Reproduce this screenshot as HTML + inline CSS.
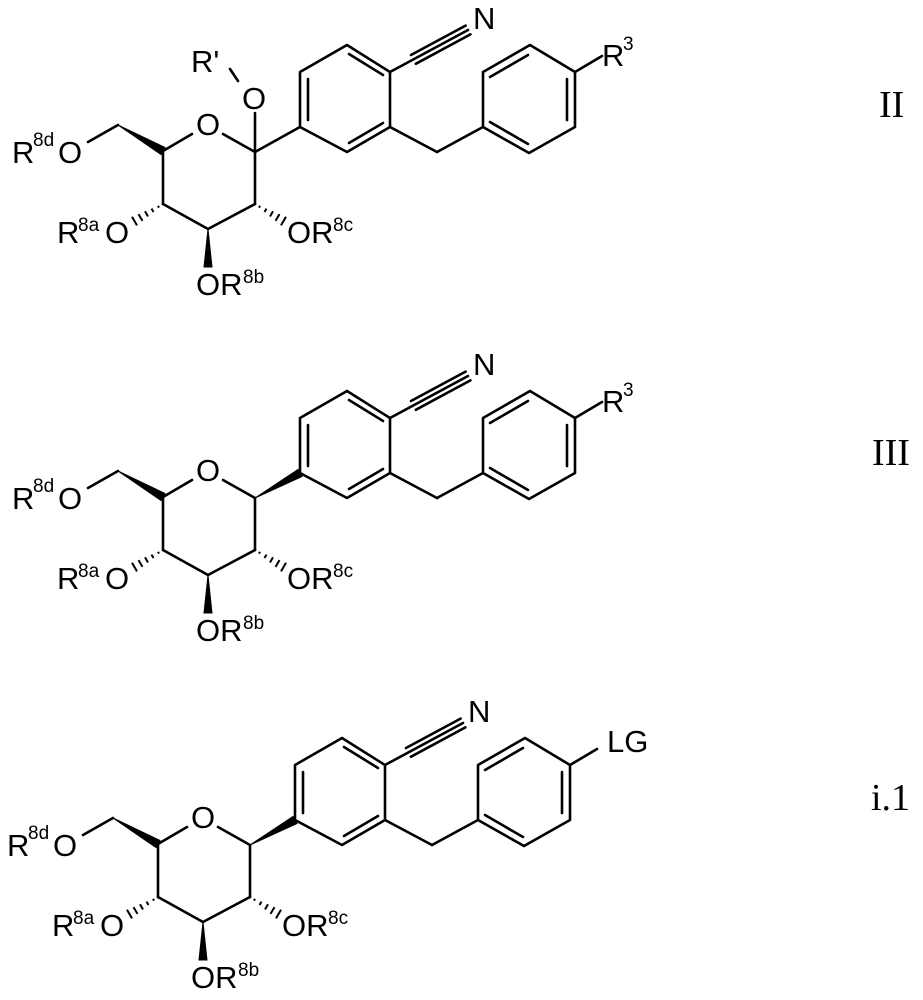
<!DOCTYPE html>
<html><head><meta charset="utf-8"><style>
html,body{margin:0;padding:0;background:#fff;}
svg{display:block;}
text{font-family:"Liberation Sans",sans-serif;fill:#000;}
.s{font-size:19px;}
.m{font-size:31px;}
.r{font-family:"Liberation Serif",serif;font-size:38px;}
</style></head><body>
<svg width="923" height="1000" viewBox="0 0 923 1000" xmlns="http://www.w3.org/2000/svg">
<defs>
<g id="core" stroke="#000" stroke-width="2.6" fill="none" stroke-linecap="round">
  <line x1="163" y1="151" x2="192" y2="134"/>
  <line x1="223" y1="134" x2="255" y2="152"/>
  <line x1="255" y1="152" x2="255" y2="204"/>
  <line x1="255" y1="204" x2="208" y2="229"/>
  <line x1="208" y1="229" x2="163" y2="204"/>
  <line x1="163" y1="204" x2="163" y2="151"/>
  <polygon points="118,125 165,147.5 161,154.5" fill="#000" stroke-width="1"/>
  <line x1="118" y1="125" x2="88" y2="142"/>
  <polygon points="208,229 204,267 212,267" fill="#000" stroke-width="1"/>
  <g stroke-width="2" stroke-linecap="butt">
  <line x1="158" y1="205.8" x2="159" y2="207.6"/>
  <line x1="151.5" y1="208.6" x2="153.5" y2="212"/>
  <line x1="145" y1="211.3" x2="148" y2="216.5"/>
  <line x1="138.5" y1="214.1" x2="142.5" y2="220.9"/>
  <line x1="132" y1="216.8" x2="137" y2="225.4"/>
  <line x1="260" y1="205.8" x2="259" y2="207.6"/>
  <line x1="266.5" y1="208.6" x2="264.5" y2="212"/>
  <line x1="273" y1="211.3" x2="270" y2="216.5"/>
  <line x1="279.5" y1="214.1" x2="275.5" y2="220.9"/>
  <line x1="286" y1="216.8" x2="281" y2="225.4"/>
  </g>
  <polygon points="300,127 300,72 347,45 390,72 390,127 347,152" stroke-linejoin="round"/>
  <line x1="308" y1="79" x2="308" y2="120"/>
  <line x1="349" y1="54" x2="383" y2="75"/>
  <line x1="349" y1="143" x2="383" y2="123"/>
  <line x1="390" y1="72" x2="468" y2="30"/>
  <line x1="415.8" y1="63.8" x2="470.4" y2="34.4"/>
  <line x1="411" y1="55" x2="465.6" y2="25.6"/>
  <line x1="390" y1="127" x2="437" y2="152"/>
  <line x1="437" y1="152" x2="483" y2="127"/>
  <polygon points="483,127 483,72 530,45 575,72 575,127 529,153" stroke-linejoin="round"/>
  <line x1="490" y1="77" x2="528" y2="55"/>
  <line x1="567" y1="79" x2="567" y2="120"/>
  <line x1="490" y1="122" x2="528" y2="144"/>
  <line x1="575" y1="72" x2="602" y2="56"/>
</g>
<g id="lab">
  <text class="m" x="196" y="135">O</text>
  <text class="m" x="12" y="163">R</text>
  <text class="s" x="33" y="146">8d</text>
  <text class="m" x="58" y="163">O</text>
  <text class="m" x="57" y="243">R</text>
  <text class="s" x="78" y="231">8a</text>
  <text class="m" x="105" y="243">O</text>
  <text class="m" x="287" y="243">OR</text>
  <text class="s" x="333" y="231">8c</text>
  <text class="m" x="196" y="295">OR</text>
  <text class="s" x="243" y="283">8b</text>
  <text class="m" x="473" y="29">N</text>
</g>
</defs>

<use href="#core"/>
<use href="#lab"/>
<g stroke="#000" stroke-width="2.6" stroke-linecap="round">
  <line x1="255" y1="152" x2="300" y2="127"/>
  <line x1="255" y1="152" x2="255" y2="113"/>
  <line x1="230" y1="69" x2="238" y2="81"/>
</g>
<text class="m" x="191" y="72">R'</text>
<text class="m" x="242" y="109">O</text>
<text class="m" x="602" y="66">R</text>
<text class="s" x="623" y="50">3</text>
<text class="r" x="879" y="117">II</text>

<g transform="translate(0,346)">
  <use href="#core"/>
  <use href="#lab"/>
  <polygon points="255,152 302,130.5 298,123.5" fill="#000" stroke="#000" stroke-width="1"/>
  <text class="m" x="602" y="66">R</text>
  <text class="s" x="623" y="50">3</text>
</g>
<text class="r" x="872" y="465">III</text>

<g transform="translate(-5,693)">
  <use href="#core"/>
  <use href="#lab"/>
  <polygon points="255,152 302,130.5 298,123.5" fill="#000" stroke="#000" stroke-width="1"/>
  <text class="m" x="612" y="59">LG</text>
</g>
<text class="r" x="871" y="810">i.1</text>
</svg>
</body></html>
